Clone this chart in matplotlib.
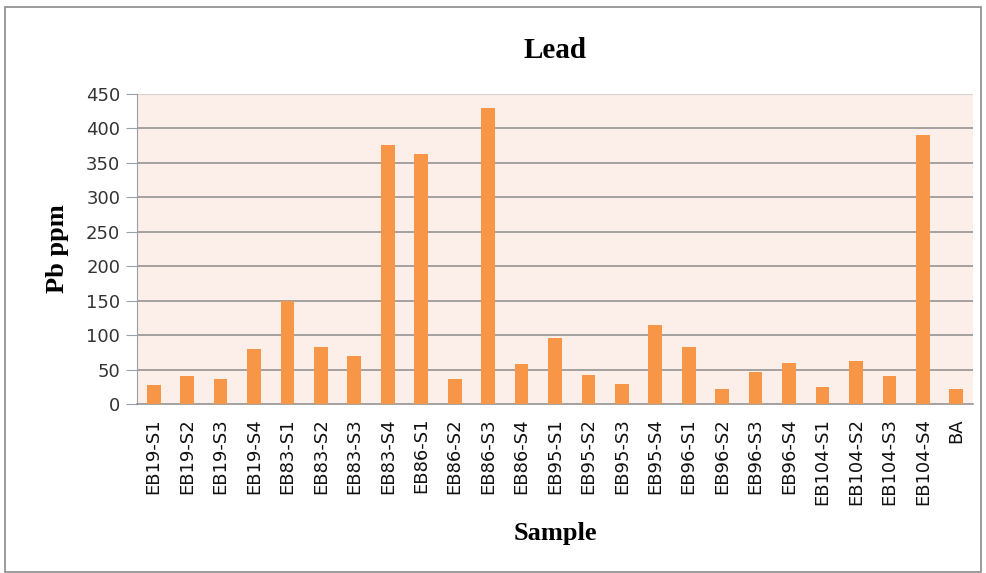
import matplotlib.pyplot as plt
from matplotlib.patches import Rectangle

# data
samples = ['EB19-S1', 'EB19-S2', 'EB19-S3', 'EB19-S4',
           'EB83-S1', 'EB83-S2', 'EB83-S3', 'EB83-S4',
           'EB86-S1', 'EB86-S2', 'EB86-S3', 'EB86-S4',
           'EB95-S1', 'EB95-S2', 'EB95-S3', 'EB95-S4',
           'EB96-S1', 'EB96-S2', 'EB96-S3', 'EB96-S4',
           'EB104-S1', 'EB104-S2', 'EB104-S3', 'EB104-S4', 'BA']
pb_ppm = [27, 40, 36, 80, 150, 83, 69, 376, 363, 37, 430, 58,
          96, 42, 29, 115, 83, 22, 46, 60, 25, 62, 40, 391, 22]
y_ticks = [0, 50, 100, 150, 200, 250, 300, 350, 400, 450]

fig = plt.figure(figsize=(9.87, 5.73), dpi=100)
ax = fig.add_axes([0.1388, 0.2949, 0.847, 0.5411])
ax.set_facecolor('#FCEEE8')

x = list(range(len(samples)))
ax.bar(x, pb_ppm, width=0.41, color='#F79646', zorder=3)

ax.set_xlim(-0.5, len(samples) - 0.5)
ax.set_ylim(0, 450)
ax.set_yticks(y_ticks)
ax.set_yticklabels([str(v) for v in y_ticks], fontsize=13, color='#333333')
ax.set_xticks(x)
ax.set_xticklabels(samples, rotation=90, fontsize=13, color='#111111')
ax.tick_params(axis='x', length=0, pad=10)
ax.tick_params(axis='y', length=8, color='#9aa0a8', pad=4)

# horizontal gridlines
for v in y_ticks[1:-1]:
    ax.axhline(v, color='#8c8c8c', linewidth=1.1, zorder=1)
ax.axhline(450, color='#d8d2cc', linewidth=1.5, zorder=1)

for s in ['top', 'right']:
    ax.spines[s].set_visible(False)
ax.spines['left'].set_color('#9aa0a8')
ax.spines['bottom'].set_color('#8c8c8c')
ax.spines['bottom'].set_linewidth(1.1)

ax.set_title('Lead', fontsize=21, fontweight='bold', family='Liberation Serif', pad=26)
ax.set_ylabel('Pb ppm', fontsize=19, fontweight='bold', family='Liberation Serif', labelpad=12)
ax.set_xlabel('Sample', fontsize=19, fontweight='bold', family='Liberation Serif', labelpad=12)

# outer chart border
fig.patches.append(Rectangle((5 / 987, 1 - 572 / 573), 976 / 987, 565 / 573,
                             transform=fig.transFigure, fill=False,
                             edgecolor='#8a8a8a', linewidth=1.2))

fig.savefig('out.png', dpi=100)
